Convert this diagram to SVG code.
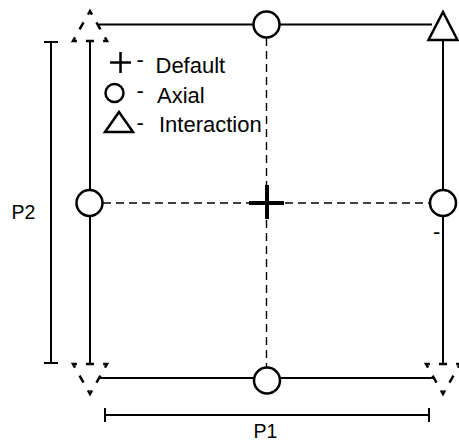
<svg xmlns="http://www.w3.org/2000/svg" width="459" height="445" viewBox="0 0 459 445">
  <style>
    .edge { stroke: #000; stroke-width: 2; fill: none; }
    .grid { stroke: #000; stroke-width: 1.4; fill: none; stroke-dasharray: 8 5; }
    .axial { stroke: #000; stroke-width: 2.5; fill: #fff; }
    .inter { stroke: #000; stroke-width: 2.5; fill: #fff; stroke-linejoin: miter; }
    .ghost { stroke: #000; stroke-width: 2.5; fill: none; stroke-dasharray: 8 9; stroke-dashoffset: 4; }
    .lbl { font-family: "Liberation Sans", Arial, sans-serif; fill: #000; }
    .key { font-size: 22px; }
    .dim { font-size: 19.5px; }
    .tick { font-family: "Liberation Sans", Arial, sans-serif; font-size: 22px; fill: #000; }
  </style>

  <!-- connectors: square edges, centre cross-lines and dimension bars -->
  <g id="connectors">
    <line class="edge" x1="99" y1="24.5" x2="432" y2="24.5"/>
    <line class="edge" x1="100" y1="378" x2="435" y2="378"/>
    <line class="edge" x1="90" y1="40" x2="90" y2="365"/>
    <line class="edge" x1="443" y1="40" x2="443" y2="365"/>
    <line class="grid" x1="103" y1="203" x2="429" y2="203"/>
    <line class="grid" x1="266.5" y1="38" x2="266.5" y2="367"/>
    <!-- P1 dimension -->
    <path class="edge" d="M105 415 H429 M105 408 V422 M429 408 V422"/>
    <!-- P2 dimension -->
    <path class="edge" d="M51 42 V363 M44 42 H58 M44 363 H58"/>
  </g>

  <!-- centre point -->
  <g id="default-center">
    <path d="M249 203 H284 M267 185 V219" stroke="#000" stroke-width="4" fill="none"/>
  </g>

  <!-- axial points -->
  <g id="axial-top"><circle class="axial" cx="266.5" cy="24.5" r="13"/></g>
  <g id="axial-left"><circle class="axial" cx="89.5" cy="203" r="13"/></g>
  <g id="axial-right"><circle class="axial" cx="443" cy="203" r="13"/></g>
  <g id="axial-bottom"><circle class="axial" cx="267" cy="380.5" r="13"/></g>

  <!-- interaction points -->
  <g id="interaction-top-right"><polygon class="inter" points="443,12 457.5,40 428.5,40"/></g>
  <g id="interaction-top-left"><polygon class="ghost" pathLength="102" points="90,11 107,41 73,41"/></g>
  <g id="interaction-bottom-left"><polygon class="ghost" pathLength="102" points="90,394 73,364 107,364"/></g>
  <g id="interaction-bottom-right"><polygon class="ghost" pathLength="102" points="443,394 426,364 460,364"/></g>

  <!-- legend -->
  <g id="legend">
    <path d="M110 62.5 H131 M120.5 52 V73" stroke="#000" stroke-width="2.5" fill="none"/>
    <circle cx="114.5" cy="93" r="9" stroke="#000" stroke-width="2.5" fill="none"/>
    <polygon points="119,112 133,132 105,132" stroke="#000" stroke-width="2.5" fill="none"/>
    <text class="tick" x="136.5" y="67">-</text>
    <text class="tick" x="136.5" y="98">-</text>
    <text class="tick" x="136.5" y="130">-</text>
    <text class="lbl key" x="155.5" y="73">Default</text>
    <text class="lbl key" x="157" y="103">Axial</text>
    <text class="lbl key" x="159" y="132">Interaction</text>
  </g>

  <!-- stray tick beside the right edge -->
  <text class="tick" x="433" y="239">-</text>

  <!-- dimension labels -->
  <g id="label-p1"><text class="lbl dim" x="253.5" y="438">P1</text></g>
  <g id="label-p2"><text class="lbl dim" x="11.5" y="219">P2</text></g>
</svg>
